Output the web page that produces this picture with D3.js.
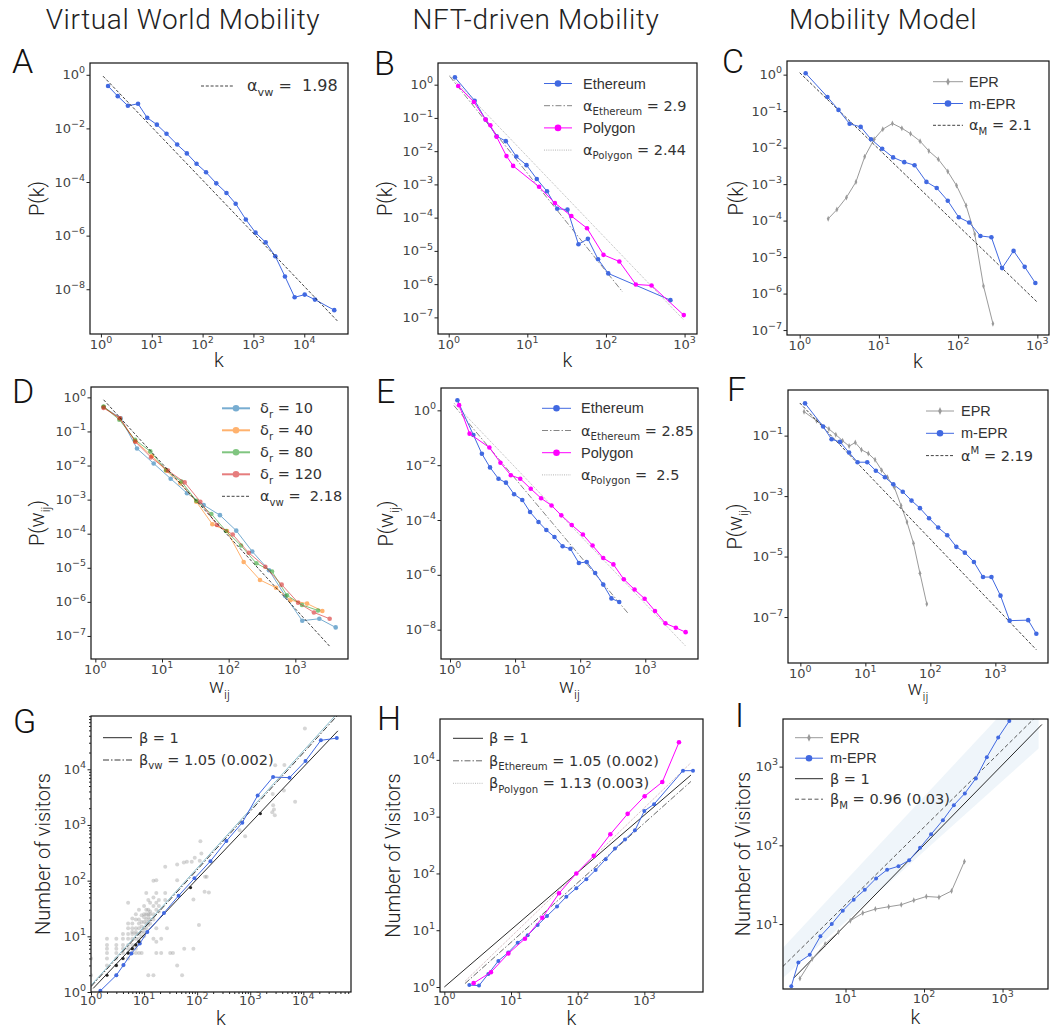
<!DOCTYPE html>
<html>
<head>
<meta charset="utf-8">
<script src="https://cdn.jsdelivr.net/npm/d3@7"></script>
<style>
  body { margin: 0; background: #fff; }
  svg text { font-family: "Liberation Sans", Arial, sans-serif; white-space: pre; }
  .light { font-family: Roboto, "Liberation Sans", sans-serif !important; font-weight: 300; }
  .math { font-family: "DejaVu Sans", sans-serif !important; }
</style>
</head>
<body>
<svg id="chart" width="1062" height="1030"></svg>
<script>
// ---- data (k or w_ij, value) ----
const COLUMN_TITLES = ['Virtual World Mobility', 'NFT-driven Mobility', 'Mobility Model'];

// A: degree distribution, virtual world
const A_vw = [[1.38,0.38],[2.14,0.16],[3.39,0.070],[5.37,0.083],[8.13,0.025],[12.6,0.0138],[19.5,0.0063],[31.6,0.0025],[49,0.00117],[76,4.8e-4],[117,2.3e-4],[186,8.9e-5],[295,3.9e-5],[447,1.55e-5],[708,4.0e-6],[1100,1.29e-6],[1740,5.6e-7],[2690,1.7e-7],[4170,3.0e-8],[6460,5.0e-9],[10200,6.3e-9],[16200,4.1e-9],[38900,1.66e-9]];
const A_fit = [[1.1,0.89],[44700,6.6e-10]];

// B: degree distribution, NFT
const B_eth = [[1.2,1.66],[2.14,0.33],[2.95,0.089],[4.07,0.028],[5.33,0.020],[7.24,0.0069],[9.77,0.0038],[13.2,0.00145],[17.8,6.2e-4],[24,1.86e-4],[32.4,1.74e-4],[44.7,1.58e-5],[58.9,2.3e-5],[79.4,5.6e-6],[107,2.1e-6],[661,3.3e-7]];
const B_poly = [[1.32,0.91],[2.09,0.30],[2.95,0.089],[3.39,0.060],[4.07,0.027],[5.43,0.0071],[6.6,0.0036],[14.1,8.5e-4],[22.4,2.75e-4],[36.3,1.12e-4],[57.5,4.8e-5],[93,7.6e-6],[148,4.8e-6],[240,9.8e-7],[380,9.1e-7],[977,1.17e-7]];
const B_ethFit = [[1.03,1.78],[163,5.8e-7]];
const B_polyFit = [[1.03,1.9],[970,8.5e-8]];

// C: degree distribution, models
const C_mepr = [[1.19,1.09],[2.24,0.245],[3.09,0.108],[4.27,0.045],[5.89,0.037],[7.94,0.017],[11.0,0.0093],[15.1,0.0054],[20.9,0.0040],[28.2,0.0033],[39.8,0.00115],[53.7,7.8e-4],[74,3.5e-4],[102,1.23e-4],[138,8.9e-5],[191,3.8e-5],[263,3.5e-5],[359,5.0e-6],[501,1.48e-5],[692,5.4e-6],[944,1.95e-6]];
const C_epr = [[2.29,1.12e-4],[2.95,2.0e-4],[3.89,4.3e-4],[5.13,0.00115],[6.61,0.0056],[8.71,0.017],[11.2,0.032],[14.8,0.046],[19.5,0.034],[25.1,0.024],[33.1,0.015],[42.7,0.0081],[56.2,0.0048],[74.1,0.0022],[95.5,9.1e-4],[126,2.6e-4],[162,4.3e-5],[209,1.62e-6],[275,1.5e-7]];
const C_fit = [[1,1.13],[1000,5.8e-7]];

// D: weight distribution for several delta_r
const D_d10 = [[1.33,0.52],[2.4,0.245],[4.22,0.0316],[7.5,0.0115],[13.5,0.0041],[23.7,0.00155],[42.2,6.9e-4],[74,3.5e-4],[130,1.23e-4],[226,3.0e-5],[403,8.5e-6],[708,1.48e-6],[1270,2.8e-7],[2290,3.2e-7],[4030,1.78e-7]];
const D_d40 = [[1.33,0.52],[2.34,0.24],[3.98,0.052],[7.08,0.019],[11.5,0.0071],[18.8,0.0030],[32.7,8.7e-4],[56.9,1.9e-4],[94.4,1.2e-4],[168,1.48e-5],[295,4.4e-6],[513,2.6e-6],[841,1.12e-6],[1500,8.9e-7],[2540,5.4e-7]];
const D_d80 = [[1.33,0.54],[2.29,0.22],[3.94,0.057],[6.68,0.026],[11.5,0.0074],[19.5,0.0034],[32.7,9.3e-4],[55,3.8e-4],[91.2,1.2e-4],[153,4.5e-5],[260,1.35e-5],[447,7.8e-6],[750,1.55e-6],[1260,8.1e-7],[2190,5.6e-7]];
const D_d120 = [[1.33,0.49],[2.32,0.245],[3.98,0.050],[6.84,0.0174],[12.3,0.0071],[21.9,0.0032],[37.6,8.7e-4],[66.8,1.8e-4],[115,9.5e-5],[200,2.75e-5],[355,1.07e-5],[624,3.2e-6],[1100,9.5e-7],[1900,4.9e-7],[3270,3.2e-7]];
const D_fit = [[1.33,0.85],[3270,5e-8]];

// E: weight distribution, NFT
const E_eth = [[1.30,2.32],[2.29,0.126],[3.09,0.026],[4.12,0.0083],[5.56,0.0032],[7.24,0.0023],[9.66,8.7e-4],[12.9,5.4e-4],[17.0,1.95e-4],[22.9,8.5e-5],[30.2,4.3e-5],[40.3,2.4e-5],[53.7,1.1e-5],[70.8,8.9e-6],[95.5,2.7e-6],[126,2.95e-6],[170,1.17e-6],[226,4.4e-7],[302,1.38e-7],[398,1.02e-7]];
const E_poly = [[1.38,1.55],[2.0,0.141],[4.03,0.044],[5.96,0.0123],[8.61,0.0043],[12.0,0.0032],[17.4,0.00138],[25.1,6.2e-4],[36.3,3.4e-4],[51.3,1.48e-4],[74.1,6.6e-5],[110,2.95e-5],[155,1.17e-5],[226,4.1e-6],[324,2.4e-6],[468,6.9e-7],[684,2.9e-7],[977,1.35e-7],[1410,4.8e-8],[2040,1.7e-8],[2950,1.17e-8],[4170,8.1e-9]];
const E_ethFit = [[1.15,1.5],[537,4.1e-8]];
const E_polyFit = [[1.15,1.85],[4120,2.6e-9]];

// F: weight distribution, models
const F_mepr = [[1.18,1.17],[2.24,0.20],[3.02,0.076],[4.07,0.062],[5.62,0.0275],[7.59,0.0132],[10.7,0.0132],[14.5,0.0069],[20,0.0042],[26.9,0.00245],[37.6,0.0014],[51.3,7.1e-4],[69.2,4.0e-4],[95.5,1.86e-4],[132,9.1e-5],[182,5.1e-5],[251,2.1e-5],[339,1.35e-5],[468,6.6e-6],[646,2.1e-6],[871,2.1e-6],[1200,5.1e-7],[1660,7.6e-8],[3200,7.9e-8],[4270,2.8e-8]];
const F_epr = [[1.14,0.62],[1.78,0.31],[2.75,0.166],[3.51,0.107],[4.47,0.068],[5.62,0.045],[7.0,0.059],[8.71,0.034],[11.1,0.0257],[14.1,0.0158],[17.8,0.0072],[21.9,0.0042],[27.9,0.00195],[35.5,4.8e-4],[43.7,1.38e-4],[55,2.75e-5],[69.2,2.8e-6],[88.1,2.7e-7]];
const F_fit = [[0.98,1.2],[4270,8.3e-9]];

// G: visitors vs degree, virtual world
const G_scatter = [[1,4],[1,2],[2,9],[2,7],[2,6],[2,5],[2,4],[2,3],[3,9],[3,7],[3,6],[3,5],[3,4],[3,3],[3,2],[4,11],[4,9],[4,7],[4,6],[4,5],[4,4],[4,3],
  [5,40],[5,17],[5,14],[5,11],[5,9],[5,7],[5,6],[5,5],[5,4],[6,21],[6,17],[6,14],[6,12],[6,11],[6,9],[6,7],[6,6],[6,5],
  [7,25],[7,20],[7,14],[7,12],[7,11],[7,9],[7,7],[7,6],[7,5],[8,30],[8,20],[8,17],[8,14],[8,11],[8,9],[8,8],[8,5],
  [9,24],[9,18],[9,15],[9,12],[9,10],[9,5],[10,35],[10,25],[10,22],[10,18],[10,14],[10,12],[10,10],
  [11,60],[11,30],[11,25],[11,20],[11,17],[11,14],[12,45],[12,30],[12,25],[12,22],[12,18],[12,16],[12,2],
  [13,40],[13,28],[13,25],[13,20],[13,17],[15,100],[15,50],[15,35],[15,25],[15,20],[15,9],[15,2],
  [17,102],[17,60],[17,40],[17,30],[17,14],[17,8],[17,5],[19,45],[19,35],[19,28],[21,9],[21,5],
  [25,177],[25,60],[25,45],[27,14],[31,5],[35,5],[42,195],[42,102],[42,3],[52,2],[56,212],[57,6],[64,218],
  [79,219],[85,46],[85,6],[90,257],[108,16],[112,228],[115,510],[120,308],[138,63],[141,117],[151,117],[166,61],
  [630,800],[800,630],[2700,2250],[2800,1900],[2600,1700],[2900,1500],[2650,3600],[2950,11800],[4400,12000],[4300,4170],[7000,2600],[10700,54000]];
const G_diag = [[2,2],[3,3],[4,4],[5,5],[6,6],[7,7],[8,8],[75,75],[1550,1600]];
const G_vw = [[1.5,1.05],[3.0,2.0],[4.1,3.05],[5.75,4.9],[8.3,7.4],[11.5,12],[23.7,26.3],[44.7,53.7],[89,110],[178,224],[355,513],[708,1100],[1380,3390],[2690,7240],[5500,7080],[11000,14100],[21400,33100],[42700,36300]];
const G_beta1 = [[1.1,1.16],[44700,49000]];
const G_betaVw = [[1,1.25],[43000,91000]];
const G_betaUp = [[1,1.32],[40000,92000]];

// H: visitors vs degree, NFT
const H_eth = [[2.37,1.08],[3.31,1.06],[4.57,1.7],[6.46,2.88],[9.12,4.07],[12.6,6.03],[17.8,8.13],[25.1,12.3],[34.7,17.8],[49,26.3],[67.6,38.9],[95.5,55],[135,79.4],[186,115],[263,178],[363,275],[513,398],[724,575],[1000,1260],[1400,1660],[3800,6460],[5370,6460]];
const H_poly = [[2.75,1.17],[5.0,1.82],[9.12,3.89],[16.2,7.08],[29.5,16.6],[52.5,44.7],[95.5,100],[174,204],[309,490],[562,1120],[1010,2290],[1860,4070],[3310,20400]];
const H_beta1 = [[1,1],[5000,5400]];
const H_ethFit = [[2.04,1.15],[5000,4170]];
const H_polyFit = [[2.04,1.26],[5000,8900]];

// I: visitors vs degree, models
const I_mepr = [[2.04,1.62],[2.51,3.24],[3.51,4.07],[4.79,7.0],[6.68,10],[9.23,14.8],[12.7,20.4],[17.6,27.2],[24.5,38],[33.9,49],[47.3,54.3],[64.6,64.6],[89.1,93.3],[123,138],[174,209],[240,324],[331,457],[457,708],[631,1320],[881,2340],[1220,3800]];
const I_epr = [[2.63,2.04],[3.76,3.6],[5.5,5.57],[8.13,7.94],[11.5,11],[16.6,13.8],[24,15.5],[35.5,16.6],[51.3,17.6],[74.1,20],[107,22.4],[155,21.9],[224,26.3],[327,62.4]];
const I_beta1 = [[2.2,2.07],[3170,3430]];
const I_betaM = [[1.6,2.9],[2490,4030]];
const I_band = [[1.6,2.07,5.0],[2880,1700,15000]];

// tick exponents
const A_xt = [0,1,2,3,4], A_yt = [0,-2,-4,-6,-8];
const B_xt = [0,1,2,3], B_yt = [0,-1,-2,-3,-4,-5,-6,-7];
const C_xt = [0,1,2,3], C_yt = [0,-1,-2,-3,-4,-5,-6,-7];
const D_xt = [0,1,2,3], D_yt = [0,-1,-2,-3,-4,-5,-6,-7];
const E_xt = [0,1,2,3], E_yt = [0,-2,-4,-6,-8];
const F_xt = [0,1,2,3], F_yt = [-1,-3,-5,-7];
const G_xt = [0,1,2,3,4], G_yt = [0,1,2,3,4];
const H_xt = [0,1,2,3], H_yt = [0,1,2,3,4];
const I_xt = [1,2,3], I_yt = [1,2,3];

const BLUE = '#4169e1', MAGENTA = '#ff00ff', EPR_GRAY = '#9a9a9a';
const TAB = ['#1f77b4', '#ff7f0e', '#2ca02c', '#d62728'];
const DASH = '3,1.8', DASHDOT = '6,2,1.5,2', DOT = '1,1.2';

const svg = d3.select('#chart');
svg.append('rect').attr('width', 1062).attr('height', 1030).attr('fill', '#fff');

const minus = s => String(s).replace('-', '\u2212');

// text with sub/superscripts: parts are strings or {sub:..} / {sup:..}
function rich(text, parts, fs, small) {
  let shift = 0;
  parts.forEach(p => {
    let target = 0, str = p, size = fs;
    if (typeof p === 'object') {
      if (p.sub !== undefined) { target = 0.3 * fs; str = p.sub; }
      else { target = -0.45 * fs; str = p.sup; }
      size = small;
    }
    text.append('tspan').attr('dy', target - shift).attr('font-size', size).text(str);
    shift = target;
  });
}

function eprMarker(sel, s) {
  return sel.append('path').attr('d', `M0,${-s}L${s * 0.45},0L0,${s}L${-s * 0.45},0Z`);
}

function drawPanel(p) {
  const [x0, y0, x1, y1] = p.box;
  const x = d3.scaleLog().domain([10 ** p.xd[0], 10 ** p.xd[1]]).range([x0, x1]);
  const y = d3.scaleLog().domain([10 ** p.yd[0], 10 ** p.yd[1]]).range([y1, y0]);
  const g = svg.append('g');
  const clipId = 'clip' + p.letter;
  g.append('clipPath').attr('id', clipId)
    .append('rect').attr('x', x0).attr('y', y0).attr('width', x1 - x0).attr('height', y1 - y0);
  const plot = g.append('g').attr('clip-path', `url(#${clipId})`);

  if (p.band) {
    plot.append('path').datum(p.band)
      .attr('d', d3.area().x(d => x(d[0])).y0(d => y(d[1])).y1(d => y(d[2])))
      .attr('fill', '#dbe9f3').attr('opacity', 0.45);
  }
  if (p.scatter) {
    plot.selectAll(null).data(p.scatter).join('circle')
      .attr('cx', d => x(d[0])).attr('cy', d => y(d[1])).attr('r', 2)
      .attr('fill', '#999').attr('opacity', 0.4);
  }
  const line = d3.line().x(d => x(d[0])).y(d => y(d[1]));
  p.series.forEach(s => {
    const sg = plot.append('g').attr('opacity', s.opacity || 1);
    sg.append('path').datum(s.data).attr('d', line)
      .attr('fill', 'none').attr('stroke', s.color)
      .attr('stroke-width', s.width || 1)
      .attr('stroke-dasharray', s.dash || null);
    if (s.marker === 'o') {
      sg.selectAll(null).data(s.data).join('circle')
        .attr('cx', d => x(d[0])).attr('cy', d => y(d[1])).attr('r', s.r || 2.3)
        .attr('fill', s.color);
    } else if (s.marker === 'd') {
      s.data.forEach(d => eprMarker(sg, 3).attr('transform', `translate(${x(d[0])},${y(d[1])})`).attr('fill', s.color));
    }
  });
  if (p.dots) {
    plot.selectAll(null).data(p.dots).join('circle')
      .attr('cx', d => x(d[0])).attr('cy', d => y(d[1])).attr('r', 1.6).attr('fill', '#222');
  }

  // frame and ticks
  g.append('rect').attr('x', x0).attr('y', y0).attr('width', x1 - x0).attr('height', y1 - y0)
    .attr('fill', 'none').attr('stroke', '#111').attr('stroke-width', 1.2);
  const tickStyle = s => { s.select('.domain').remove(); s.selectAll('line').attr('stroke', '#222'); };
  g.append('g').attr('transform', `translate(0,${y1})`)
    .call(d3.axisBottom(x).tickValues(p.xt.map(e => 10 ** e)).tickSize(3.5).tickFormat('')).call(tickStyle);
  g.append('g').attr('transform', `translate(${x0},0)`)
    .call(d3.axisLeft(y).tickValues(p.yt.map(e => 10 ** e)).tickSize(3.5).tickFormat('')).call(tickStyle);
  if (p.minor) {
    const minors = (dom) => {
      const out = [];
      for (let e = Math.floor(dom[0]); e < dom[1]; e++)
        for (let m = 2; m < 10; m++) { const v = m * 10 ** e; if (v > 10 ** dom[0] && v < 10 ** dom[1]) out.push(v); }
      return out;
    };
    g.append('g').attr('transform', `translate(0,${y1})`)
      .call(d3.axisBottom(x).tickValues(minors(p.xd)).tickSize(2).tickFormat('')).call(tickStyle);
    g.append('g').attr('transform', `translate(${x0},0)`)
      .call(d3.axisLeft(y).tickValues(minors(p.yd)).tickSize(2).tickFormat('')).call(tickStyle);
  }
  p.xt.forEach(e => {
    const t = g.append('text').attr('class', 'math').attr('x', x(10 ** e)).attr('y', y1 + (p.xtOff || 14.5))
      .attr('text-anchor', 'middle').attr('fill', '#444');
    rich(t, ['10', { sup: minus(e) }], 13, 9.5);
  });
  p.yt.forEach(e => {
    const t = g.append('text').attr('class', 'math').attr('x', x0 - 5).attr('y', y(10 ** e) + 4.5)
      .attr('text-anchor', 'end').attr('fill', '#444');
    rich(t, ['10', { sup: minus(e) }], 13, 9.5);
  });

  // axis labels
  const xl = g.append('text').attr('class', 'light').attr('x', (x0 + x1) / 2).attr('y', y1 + p.xlabOff)
    .attr('text-anchor', 'middle').attr('fill', '#222');
  rich(xl, p.xlab, 20, 13);
  const yl = g.append('text').attr('class', 'light')
    .attr('transform', `translate(${p.ylabX},${(y0 + y1) / 2}) rotate(-90)`)
    .attr('text-anchor', 'middle').attr('dy', '0.35em').attr('fill', '#222');
  rich(yl, p.ylab, 20, 13);

  // panel letter
  g.append('text').attr('class', 'light').attr('x', p.letterPos[0]).attr('y', p.letterPos[1])
    .attr('font-size', 34).attr('fill', '#111').text(p.letter);

  // legend
  const L = p.legend;
  L.items.forEach((it, i) => {
    const ly = L.y + i * L.dy;
    const lg = g.append('g').attr('opacity', it.opacity || 1);
    lg.append('line').attr('x1', L.x).attr('x2', L.x + L.len).attr('y1', ly).attr('y2', ly)
      .attr('stroke', it.color).attr('stroke-width', it.width || 1).attr('stroke-dasharray', it.dash || null);
    if (it.marker === 'o') lg.append('circle').attr('cx', L.x + L.len / 2).attr('cy', ly).attr('r', 3.3).attr('fill', it.color);
    if (it.marker === 'd') eprMarker(lg, 4).attr('transform', `translate(${L.x + L.len / 2},${ly})`).attr('fill', it.color);
    const fs = L.fs || 14.5;
    const t = g.append('text').attr('x', L.tx).attr('y', ly + 5).attr('fill', '#333')
      .attr('class', it.label.length > 1 ? 'math' : null);
    rich(t, it.label, fs, fs * 0.7);
  });
}

const kLab = ['k'], wLab = ['w', { sub: 'ij' }];
const pkLab = ['P(k)'], pwLab = ['P(w', { sub: 'ij' }, ')'];

const panels = [
  { letter: 'A', letterPos: [12, 73], box: [90, 63, 348, 334], xd: [-0.215, 4.86], yd: [-9.67, 0.44], xt: A_xt, yt: A_yt,
    xlab: kLab, xlabOff: 33, ylab: pkLab, ylabX: 44,
    series: [{ data: A_vw, color: BLUE, marker: 'o' }, { data: A_fit, color: '#111', dash: DASH, width: 0.8 }],
    legend: { x: 201, y: 86, dy: 22, len: 32, tx: 247, fs: 16, items: [
      { color: '#111', dash: DASH, width: 0.8, label: ['\u03b1', { sub: 'vw' }, ' =  1.98'] }] } },
  { letter: 'B', letterPos: [374, 75], box: [438, 63, 697, 334], xd: [-0.136, 3.158], yd: [-7.5, 0.652], xt: B_xt, yt: B_yt,
    xlab: kLab, xlabOff: 33, ylab: pkLab, ylabX: 392,
    series: [{ data: B_ethFit, color: '#777', dash: DASHDOT, width: 0.9 }, { data: B_polyFit, color: '#aaa', dash: DOT, width: 0.9 },
      { data: B_eth, color: BLUE, marker: 'o' }, { data: B_poly, color: MAGENTA, marker: 'o' }],
    legend: { x: 544, y: 83.5, dy: 22.2, len: 28, tx: 583, items: [
      { color: BLUE, marker: 'o', label: ['Ethereum'] },
      { color: '#777', dash: DASHDOT, width: 0.9, label: ['\u03b1', { sub: 'Ethereum' }, ' = 2.9'] },
      { color: MAGENTA, marker: 'o', label: ['Polygon'] },
      { color: '#aaa', dash: DOT, width: 0.9, label: ['\u03b1', { sub: 'Polygon' }, ' = 2.44'] }] } },
  { letter: 'C', letterPos: [722, 73], box: [787, 61, 1049, 335], xd: [-0.16, 3.147], yd: [-7.135, 0.374], xt: C_xt, yt: C_yt,
    xlab: kLab, xlabOff: 33, ylab: pkLab, ylabX: 743,
    series: [{ data: C_epr, color: EPR_GRAY, marker: 'd' }, { data: C_fit, color: '#111', dash: DASH, width: 0.8 },
      { data: C_mepr, color: BLUE, marker: 'o' }],
    legend: { x: 933, y: 81.7, dy: 21.8, len: 30, tx: 969, items: [
      { color: EPR_GRAY, marker: 'd', label: ['EPR'] },
      { color: BLUE, marker: 'o', label: ['m-EPR'] },
      { color: '#111', dash: DASH, width: 0.8, label: ['\u03b1', { sub: 'M' }, ' = 2.1'] }] } },
  { letter: 'D', letterPos: [12, 403], box: [91, 387, 348, 659], xd: [-0.065, 3.79], yd: [-7.676, 0.304], xt: D_xt, yt: D_yt,
    xlab: wLab, xlabOff: 34, ylab: pwLab, ylabX: 44,
    series: [{ data: D_d10, color: TAB[0], marker: 'o', opacity: 0.6 }, { data: D_d40, color: TAB[1], marker: 'o', opacity: 0.6 },
      { data: D_d80, color: TAB[2], marker: 'o', opacity: 0.6 }, { data: D_d120, color: TAB[3], marker: 'o', opacity: 0.6 },
      { data: D_fit, color: '#111', dash: DASH, width: 0.8 }],
    legend: { x: 222, y: 408.3, dy: 22, len: 28, tx: 260, items: [
      { color: TAB[0], marker: 'o', opacity: 0.6, width: 2, label: ['\u03b4', { sub: 'r' }, ' = 10'] },
      { color: TAB[1], marker: 'o', opacity: 0.6, width: 2, label: ['\u03b4', { sub: 'r' }, ' = 40'] },
      { color: TAB[2], marker: 'o', opacity: 0.6, width: 2, label: ['\u03b4', { sub: 'r' }, ' = 80'] },
      { color: TAB[3], marker: 'o', opacity: 0.6, width: 2, label: ['\u03b4', { sub: 'r' }, ' = 120'] },
      { color: '#111', dash: DASH, width: 0.8, label: ['\u03b1', { sub: 'vw' }, ' =  2.18'] }] } },
  { letter: 'E', letterPos: [376, 403], box: [441, 388, 698, 659], xd: [-0.138, 3.81], yd: [-9.07, 0.815], xt: E_xt, yt: E_yt,
    xlab: wLab, xlabOff: 34, ylab: pwLab, ylabX: 393,
    series: [{ data: E_ethFit, color: '#777', dash: DASHDOT, width: 0.9 }, { data: E_polyFit, color: '#aaa', dash: DOT, width: 0.9 },
      { data: E_eth, color: BLUE, marker: 'o' }, { data: E_poly, color: MAGENTA, marker: 'o' }],
    legend: { x: 542, y: 408.3, dy: 22.2, len: 29, tx: 581, items: [
      { color: BLUE, marker: 'o', label: ['Ethereum'] },
      { color: '#777', dash: DASHDOT, width: 0.9, label: ['\u03b1', { sub: 'Ethereum' }, ' = 2.85'] },
      { color: MAGENTA, marker: 'o', label: ['Polygon'] },
      { color: '#aaa', dash: DOT, width: 0.9, label: ['\u03b1', { sub: 'Polygon' }, ' =  2.5'] }] } },
  { letter: 'F', letterPos: [727, 401], box: [788, 390, 1048, 663], xd: [-0.19, 3.81], yd: [-8.52, 0.509], xt: F_xt, yt: F_yt,
    xlab: wLab, xlabOff: 32, ylab: pwLab, ylabX: 742,
    series: [{ data: F_epr, color: EPR_GRAY, marker: 'd' }, { data: F_fit, color: '#111', dash: DASH, width: 0.8 },
      { data: F_mepr, color: BLUE, marker: 'o' }],
    legend: { x: 926, y: 411, dy: 22.3, len: 28, tx: 961, items: [
      { color: EPR_GRAY, marker: 'd', label: ['EPR'] },
      { color: BLUE, marker: 'o', label: ['m-EPR'] },
      { color: '#111', dash: DASH, width: 0.8, label: ['\u03b1', { sup: 'M' }, ' = 2.19'] }] } },
  { letter: 'G', letterPos: [13, 733], box: [91, 716, 351, 992], xd: [0, 4.898], yd: [0, 4.957], xt: G_xt, yt: G_yt,
    xlab: kLab, xlabOff: 33, xtOff: 12.5, ylab: ['Number of visitors'], ylabX: 50, scatter: G_scatter, dots: G_diag, minor: true,
    series: [{ data: G_betaUp, color: '#7fb8c8', width: 0.9 }, { data: G_beta1, color: '#111', width: 0.9 },
      { data: G_betaVw, color: '#222', dash: DASHDOT, width: 0.9 }, { data: G_vw, color: BLUE, marker: 'o', r: 2 }],
    legend: { x: 103, y: 737.7, dy: 22.3, len: 29, tx: 139, items: [
      { color: '#111', width: 0.9, label: ['\u03b2 = 1', ''] },
      { color: '#222', dash: DASHDOT, width: 0.9, label: ['\u03b2', { sub: 'vw' }, ' = 1.05 (0.002)'] }] } },
  { letter: 'H', letterPos: [377, 730], box: [440, 719, 703, 992], xd: [-0.065, 3.88], yd: [-0.088, 4.72], xt: H_xt, yt: H_yt,
    xlab: kLab, xlabOff: 33, xtOff: 12.5, ylab: ['Number of Visitors'], ylabX: 400,
    series: [{ data: H_beta1, color: '#111', width: 0.9 }, { data: H_ethFit, color: '#555', dash: DASHDOT, width: 0.9 },
      { data: H_polyFit, color: '#c9a9b0', dash: DOT, width: 1 },
      { data: H_eth, color: BLUE, marker: 'o', r: 2 }, { data: H_poly, color: MAGENTA, marker: 'o', r: 2.3 }],
    legend: { x: 453, y: 738.3, dy: 22.5, len: 30, tx: 489, items: [
      { color: '#111', width: 0.9, label: ['\u03b2 = 1', ''] },
      { color: '#555', dash: DASHDOT, width: 0.9, label: ['\u03b2', { sub: 'Ethereum' }, ' = 1.05 (0.002)'] },
      { color: '#bbb', dash: DOT, width: 1, label: ['\u03b2', { sub: 'Polygon' }, ' = 1.13 (0.003)'] }] } },
  { letter: 'I', letterPos: [735, 727], box: [783, 719, 1048, 989], xd: [0.204, 3.579], yd: [0.175, 3.605], xt: I_xt, yt: I_yt,
    xlab: kLab, xlabOff: 35, xtOff: 13.5, ylab: ['Number of Visitors'], ylabX: 750, band: I_band,
    series: [{ data: I_beta1, color: '#111', width: 0.9 }, { data: I_betaM, color: '#444', dash: '4,2.5', width: 0.9 },
      { data: I_epr, color: EPR_GRAY, marker: 'd' }, { data: I_mepr, color: BLUE, marker: 'o', r: 2 }],
    legend: { x: 795, y: 737.7, dy: 20.5, len: 28, tx: 830, items: [
      { color: EPR_GRAY, marker: 'd', label: ['EPR'] },
      { color: BLUE, marker: 'o', label: ['m-EPR'] },
      { color: '#111', width: 0.9, label: ['\u03b2 = 1', ''] },
      { color: '#444', dash: '4,2.5', width: 0.9, label: ['\u03b2', { sub: 'M' }, ' = 0.96 (0.03)'] }] } }
];

panels.forEach(drawPanel);

// column titles
const titleX = [183, 536, 883];
COLUMN_TITLES.forEach((t, i) => {
  svg.append('text').attr('class', 'light').attr('x', titleX[i]).attr('y', 29)
    .attr('text-anchor', 'middle').attr('font-size', 28).attr('letter-spacing', 0.6)
    .attr('fill', '#222').text(t);
});
</script>
</body>
</html>
